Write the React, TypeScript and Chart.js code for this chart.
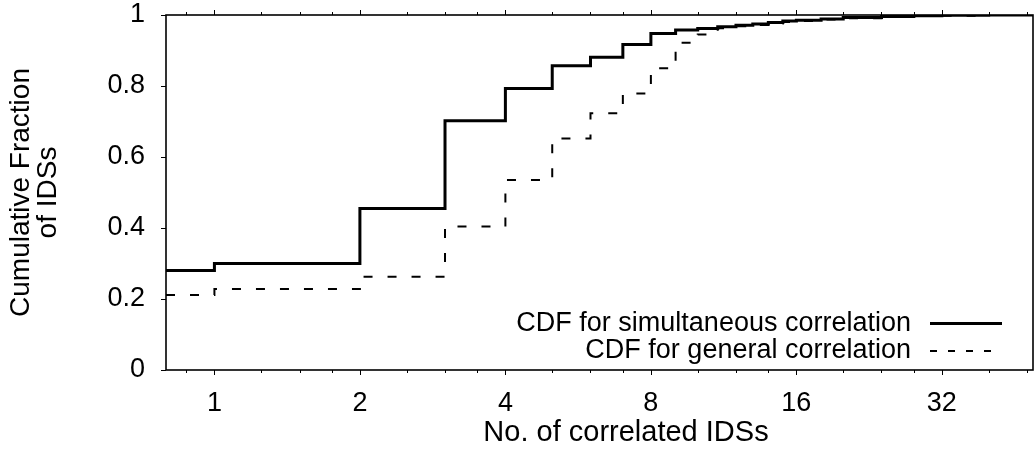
import React, { useEffect, useRef } from "react";
import { Chart, registerables } from "chart.js";

Chart.register(...registerables);

// Axis range (log base 2 on x)
const X_MIN = 0.794;
const X_MAX = 49.4;

// Number of correlated IDSs at which each CDF steps
const correlatedIds = [1, 2, 3, 4, 5, 6, 7, 8, 9, 10, 11, 12, 13, 14, 15, 16, 18, 20, 24, 28, 32, 40];
const simultaneousCdf = [
  0.3, 0.455, 0.702, 0.793, 0.857, 0.881, 0.917, 0.948, 0.958, 0.962, 0.967, 0.971, 0.975, 0.979,
  0.983, 0.985, 0.989, 0.993, 0.996, 0.998, 0.999, 1.0,
];
const generalCdf = [
  0.228, 0.263, 0.404, 0.535, 0.652, 0.723, 0.779, 0.85, 0.922, 0.945, 0.963, 0.968, 0.972, 0.976,
  0.98, 0.983, 0.987, 0.991, 0.995, 0.997, 0.998, 1.0,
];
// Fraction already reached at the left edge of the axis
const simultaneousStart = 0.28;
const generalStart = 0.211;

const xMajorTicks = [1, 2, 4, 8, 16, 32];
const xMinorTicks = [0.875, 1.25, 1.5, 1.75, 2.5, 3, 3.5, 5, 6, 7, 10, 12, 14, 20, 24, 28, 40, 48];
const yTicks = [0, 0.2, 0.4, 0.6, 0.8, 1];

const seriesLabels = ["CDF for simultaneous correlation", "CDF for general correlation"];
const xTitle = "No. of correlated IDSs";
const yTitle = ["Cumulative Fraction", "of IDSs"];

const FONT_FAMILY = "'Liberation Sans', Arial, Helvetica, sans-serif";
const FONT_SIZE = 27;

const toSteps = (start: number, values: number[]) => [
  { x: X_MIN, y: start },
  ...correlatedIds.map((x, i) => ({ x, y: values[i] })),
  { x: X_MAX, y: values[values.length - 1] },
];

// Frame, tick marks, x title and key drawn on top of the plot
const framePlugin = {
  id: "gnuplotFrame",
  afterDraw(chart: any) {
    const { ctx, chartArea } = chart;
    const { left, right, top, bottom } = chartArea;
    const xs = chart.scales.x;
    const ys = chart.scales.y;
    ctx.save();
    ctx.strokeStyle = "#000";

    // tick marks
    ctx.lineWidth = 1;
    ctx.beginPath();
    const xTick = (v: number, len: number) => {
      const px = Math.round(xs.getPixelForValue(v)) + 0.5;
      ctx.moveTo(px, bottom);
      ctx.lineTo(px, bottom + len);
      ctx.moveTo(px, top);
      ctx.lineTo(px, top - len);
    };
    xMajorTicks.forEach((v) => xTick(v, 5));
    xMinorTicks.forEach((v) => xTick(v, 3));
    yTicks.forEach((v) => {
      const py = Math.round(ys.getPixelForValue(v)) + 0.5;
      ctx.moveTo(left, py);
      ctx.lineTo(left - 5, py);
    });
    ctx.stroke();

    // border
    ctx.lineWidth = 1.6;
    ctx.strokeRect(left, top, right - left, bottom - top);

    // x axis title
    ctx.fillStyle = "#000";
    ctx.font = `29px ${FONT_FAMILY}`;
    ctx.textAlign = "center";
    ctx.textBaseline = "middle";
    ctx.fillText(xTitle, 626, 433);

    // key
    ctx.font = `${FONT_SIZE}px ${FONT_FAMILY}`;
    const ds = chart.data.datasets;
    const rows = [323.5, 351];
    ctx.textAlign = "right";
    ds.forEach((d: any, i: number) => {
      const y = rows[i];
      ctx.fillText(d.label, 911, y);
      ctx.beginPath();
      ctx.lineWidth = d.borderWidth;
      ctx.setLineDash(i === 0 ? [] : [7, 11]);
      ctx.moveTo(930, y);
      ctx.lineTo(1002, y);
      ctx.stroke();
    });
    ctx.setLineDash([]);
    ctx.restore();
  },
};

export default function App() {
  const canvasRef = useRef<HTMLCanvasElement | null>(null);

  useEffect(() => {
    document.body.style.margin = "0";
    const canvas = canvasRef.current;
    if (!canvas) return;
    Chart.defaults.color = "#000";
    Chart.defaults.font.family = FONT_FAMILY;
    Chart.defaults.font.size = FONT_SIZE;

    const chart = new Chart(canvas, {
      type: "line",
      data: {
        datasets: [
          {
            label: seriesLabels[0],
            data: toSteps(simultaneousStart, simultaneousCdf),
            borderColor: "#000",
            borderWidth: 3,
            stepped: true,
            pointRadius: 0,
            fill: false,
          },
          {
            label: seriesLabels[1],
            data: toSteps(generalStart, generalCdf),
            borderColor: "#000",
            borderWidth: 2,
            borderDash: [9, 15],
            stepped: true,
            pointRadius: 0,
            fill: false,
          },
        ],
      },
      options: {
        animation: false,
        responsive: false,
        devicePixelRatio: 1,
        layout: { padding: { top: 15, right: 1, left: 0, bottom: 0 } },
        plugins: {
          legend: { display: false },
          tooltip: { enabled: false },
        },
        scales: {
          x: {
            type: "logarithmic",
            min: X_MIN,
            max: X_MAX,
            grid: { display: false, drawTicks: false },
            border: { display: false },
            afterBuildTicks: (scale: any) => {
              scale.ticks = xMajorTicks.map((v) => ({ value: v }));
            },
            afterFit: (scale: any) => {
              scale.height = 89;
              scale.paddingLeft = 0;
              scale.paddingRight = 0;
            },
            ticks: {
              autoSkip: false,
              maxRotation: 0,
              padding: 17,
              callback: (v: any) => String(v),
            },
          },
          y: {
            type: "linear",
            min: 0,
            max: 1,
            grid: { display: false, drawTicks: false },
            border: { display: false },
            afterBuildTicks: (scale: any) => {
              scale.ticks = yTicks.map((v) => ({ value: v }));
            },
            afterFit: (scale: any) => {
              scale.width = 166;
              scale.paddingTop = 0;
              scale.paddingBottom = 0;
            },
            ticks: {
              padding: 21,
              callback: (v: any) => String(v),
            },
            title: {
              display: true,
              text: yTitle,
              font: { size: 28, lineHeight: 0.97 },
              padding: { top: 8, bottom: 0 },
            },
          },
        },
      },
      plugins: [framePlugin],
    } as any);

    return () => chart.destroy();
  }, []);

  return <canvas ref={canvasRef} width={1034} height={459} style={{ display: "block" }} />;
}
